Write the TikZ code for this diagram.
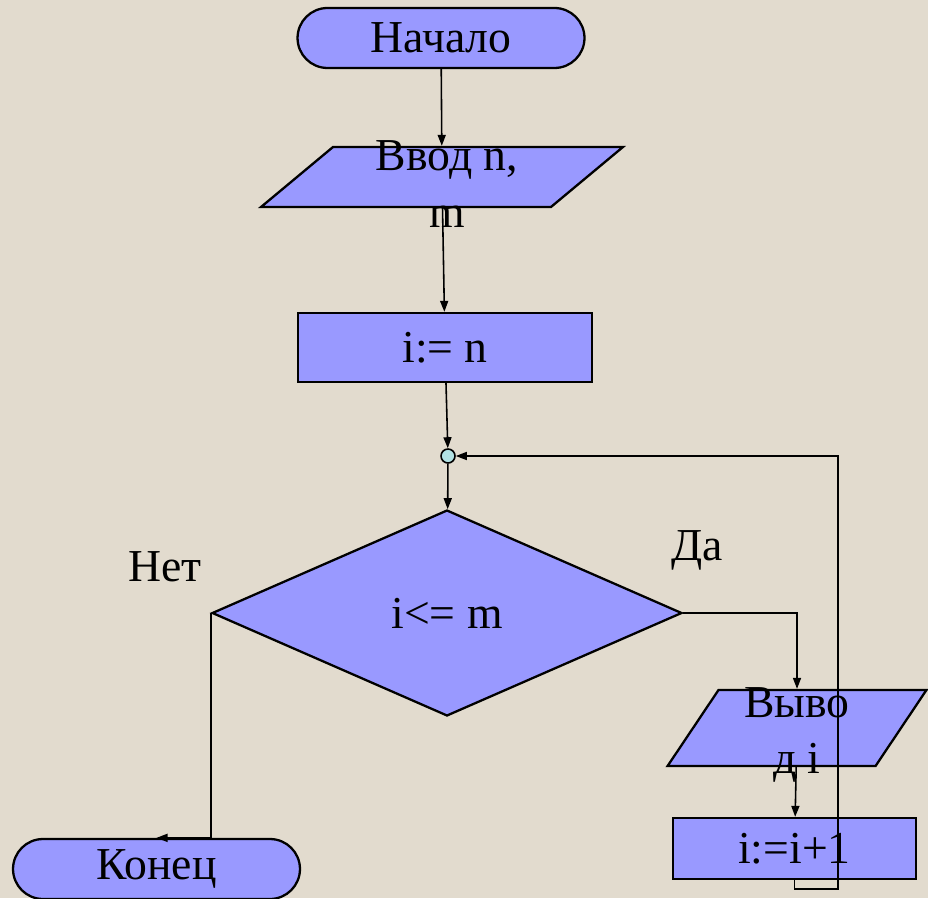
\documentclass[tikz,border=0pt]{standalone}
\usepackage{fontspec}
\setmainfont{Liberation Serif}
\usetikzlibrary{shapes.geometric, arrows.meta}
\definecolor{paper}{RGB}{226,219,206}
\definecolor{blockfill}{RGB}{153,153,255}
\definecolor{joinfill}{RGB}{178,226,228}
\tikzset{
  block/.style={draw, line width=1.3pt, fill=blockfill, inner sep=0pt},
  term/.style={block, rounded corners=0.6cm, minimum width=5.74cm, minimum height=1.2cm},
  slant/.style={block, xslant=#1},
  flow/.style={draw, line width=0.9pt, -{Triangle[length=0.22cm, width=0.16cm]}},
}

\begin{document}
\begin{tikzpicture}[x=0.02cm, y=-0.02cm, every node/.style={font=\fontsize{26}{32}\selectfont}]
            \fill [paper] (0,0) rectangle (928,898);
            \useasboundingbox (0,0) rectangle (928,898);
            % blocks
            \node [term] (start) at (441,38) {Начало};
            \node [slant=1.2, minimum width=5.8cm, minimum height=1.2cm] (input) at (442,177) {};
            \node [align=center] (inputtext) at (447,184) {Ввод n,\\m};
            \node [block, minimum width=5.88cm, minimum height=1.38cm] (init) at (445,347.5) {i:= n};
            \node [draw, line width=0.9pt, circle, fill=joinfill, inner sep=0pt, minimum size=0.28cm] (join) at (448,456) {};
            \node [block, diamond, minimum width=9.4cm, minimum height=4.12cm] (cond) at (447,613) {i<= m};
            \node [slant=0.67, minimum width=4.16cm, minimum height=1.52cm] (output) at (797,728) {};
            \node [align=center] (outputtext) at (797,735) {Выво\\д i};
            \node [block, minimum width=4.86cm, minimum height=1.22cm] (step) at (794.5,848.5) {i:=i+1};
            \node [term] (stop) at (156.5,869) {Конец};
            \node (yes) at (697,550) {Да};
            \node (no) at (165,567) {Нет};
            \coordinate (back) at (838,889);
            % lines
            \draw [flow] (start) -- (input);
            \draw [flow] (input) -- (init);
            \draw [flow] (init) -- (join);
            \draw [flow] (join) -- (cond);
            \draw [flow] (cond.east) -| (output.center |- output.north);
            \draw [flow] (output) -- (step);
            \draw [flow] (step.south) |- (back) |- (join.east);
            \draw [flow] (cond.west) |- (stop.north);
        \end{tikzpicture}
\end{document}
